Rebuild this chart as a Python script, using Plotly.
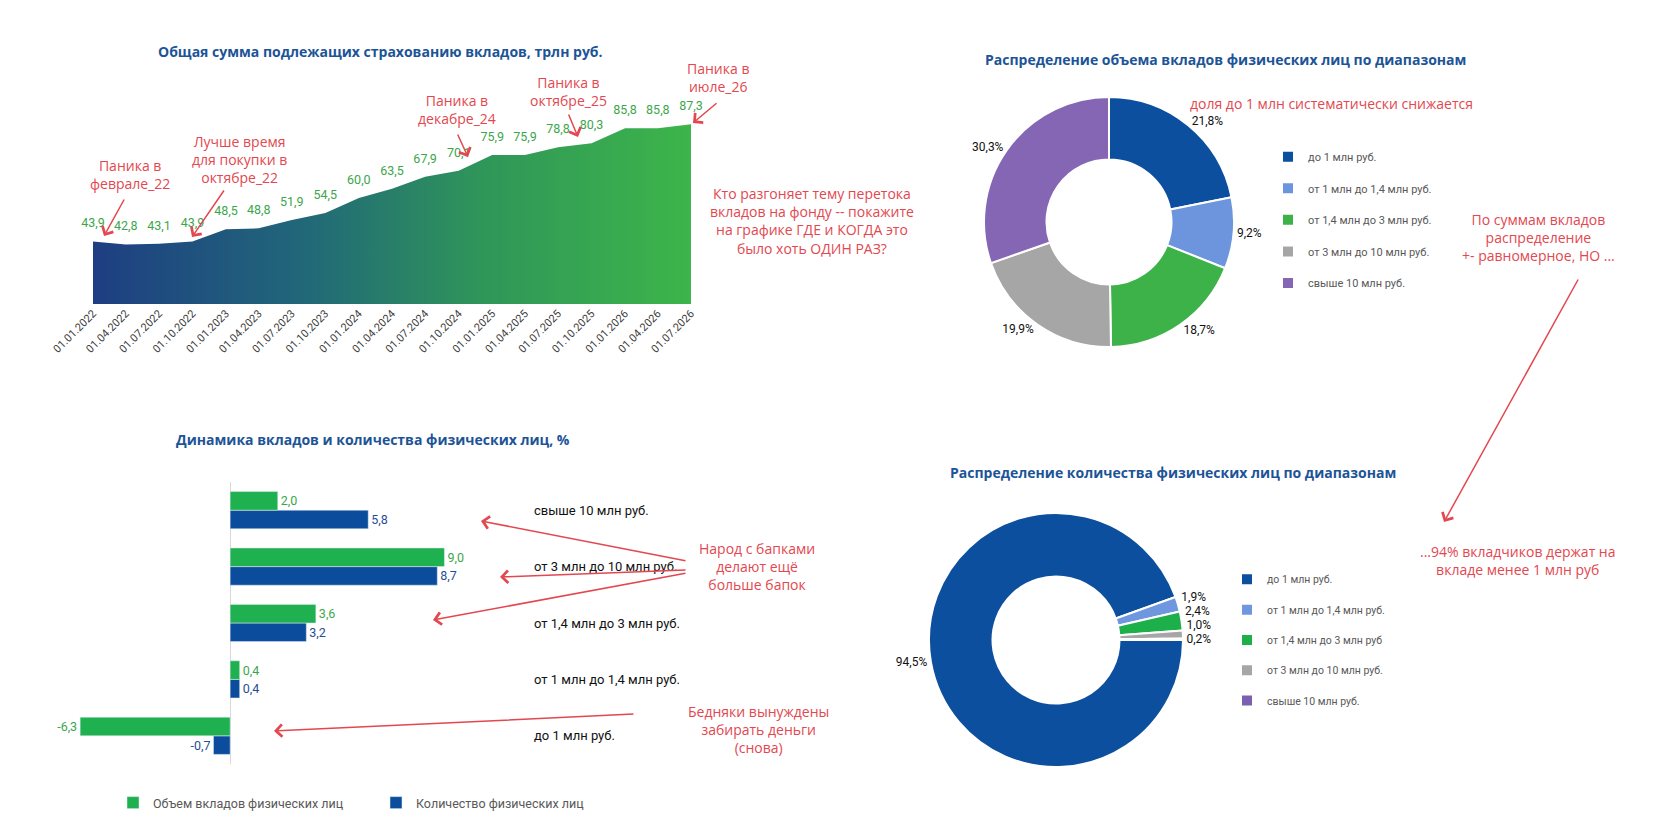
import plotly.graph_objects as go

W, H = 1662, 839

#########################################################################################
# Data
#########################################################################################
quarters = ['2022-01-01', '2022-04-01', '2022-07-01', '2022-10-01',
            '2023-01-01', '2023-04-01', '2023-07-01', '2023-10-01',
            '2024-01-01', '2024-04-01', '2024-07-01', '2024-10-01',
            '2025-01-01', '2025-04-01', '2025-07-01', '2025-10-01',
            '2026-01-01', '2026-04-01', '2026-07-01']
insured_total = [43.9, 42.8, 43.1, 43.9, 48.5, 48.8, 51.9, 54.5, 60.0, 63.5,
                 67.9, 70.1, 75.9, 75.9, 78.8, 80.3, 85.8, 85.8, 87.3]

ranges = ['до 1 млн руб.', 'от 1 млн до 1,4 млн руб.', 'от 1,4 млн до 3 млн руб.',
          'от 3 млн до 10 млн руб.', 'свыше 10 млн руб.']
ranges_people = ['до 1 млн руб.', 'от 1 млн до 1,4 млн руб.', 'от 1,4 млн до 3 млн руб',
                 'от 3 млн до 10 млн руб.', 'свыше 10 млн руб.']
volume_share = [21.8, 9.2, 18.7, 19.9, 30.3]
people_share = [94.5, 1.9, 2.4, 1.0, 0.2]

volume_change = [-6.3, 0.4, 3.6, 9.0, 2.0]
people_change = [-0.7, 0.4, 3.2, 8.7, 5.8]

#########################################################################################
# Styles
#########################################################################################
RED = '#e3474f'
TITLE_BLUE = '#1c5497'
GREEN = '#3ca64b'
BLUE = '#0b4d9c'
slice_colors = ['#0b4f9e', '#6d95dd', '#3db249', '#a6a6a6', '#8466b5']
slice_colors_people = ['#0b4f9e', '#6f97e0', '#1db04a', '#a6a6a6', '#7b5fb0']
NARROW = 'Roboto'


def px_x(x):
    return x / W


def px_y(y):
    return 1 - y / H


fig = go.Figure()

# area chart
fig.add_trace(go.Scatter(
    x=quarters, y=insured_total, mode='lines', fill='tozeroy',
    line=dict(width=0, color='#3db54a'),
    fillgradient=dict(type='horizontal',
                      colorscale=[[0, '#1e3e82'], [0.35, '#216779'],
                                  [0.65, '#2f9659'], [1, '#3db54a']]),
    hoverinfo='skip', showlegend=False, xaxis='x', yaxis='y'))
fig.add_trace(go.Scatter(
    x=quarters, y=insured_total, mode='markers+text',
    marker=dict(size=16, color='rgba(0,0,0,0)'),
    texttemplate='%{y:.1f}', textposition='top center',
    textfont=dict(family=NARROW, size=12.5, color=GREEN),
    cliponaxis=False, showlegend=False, xaxis='x', yaxis='y'))

# bars (first trace sits at the bottom of each group)
fig.add_trace(go.Bar(
    y=ranges, x=people_change, orientation='h', name='Количество физических лиц',
    marker_color=BLUE, texttemplate='%{x:.1f}', textposition='outside',
    textfont=dict(family=NARROW, size=12.5, color='#1f4e96'),
    constraintext='none', cliponaxis=False, legendrank=2,
    xaxis='x2', yaxis='y2'))
fig.add_trace(go.Bar(
    y=ranges, x=volume_change, orientation='h', name='Объем вкладов физических лиц',
    marker_color='#1fb04f', texttemplate='%{x:.1f}', textposition='outside',
    textfont=dict(family=NARROW, size=12.5, color=GREEN),
    constraintext='none', cliponaxis=False, legendrank=1,
    xaxis='x2', yaxis='y2'))

# donuts (a trailing blank line widens the legend rows; distinct blanks keep the two legends apart)
fig.add_trace(go.Pie(
    labels=[r + '<br> ' for r in ranges], values=volume_share, hole=0.5, sort=False,
    direction='clockwise', rotation=0,
    marker=dict(colors=slice_colors, line=dict(color='white', width=2)),
    texttemplate='%{value:.1f}%', textposition='outside',
    outsidetextfont=dict(family=NARROW, size=12, color='#111111'),
    domain=dict(x=[px_x(1109 - 125), px_x(1109 + 125)], y=[px_y(222 + 125), px_y(222 - 125)]),
    legend='legend2'))
fig.add_trace(go.Pie(
    labels=[r + '<br>&nbsp;' for r in ranges_people], values=people_share, hole=0.5, sort=False,
    direction='clockwise', rotation=90,
    marker=dict(colors=slice_colors_people, line=dict(color='white', width=2)),
    texttemplate='%{value:.1f}%', textposition='outside',
    outsidetextfont=dict(family=NARROW, size=12, color='#111111'),
    domain=dict(x=[px_x(1056 - 127), px_x(1056 + 127)], y=[px_y(640 + 127), px_y(640 - 127)]),
    legend='legend3'))

#########################################################################################
# Texts and arrows
#########################################################################################
annotations = []
titles = [
    ('Общая сумма подлежащих страхованию вкладов, трлн руб.', 380, 52),
    ('Распределение объема вкладов физических лиц по диапазонам', 1225, 60),
    ('Динамика вкладов и количества физических лиц, %', 373, 439),
    ('Распределение количества физических лиц по диапазонам', 1173, 472),
]
for text, x, y in titles:
    annotations.append(dict(text='<b>' + text + '</b>', x=px_x(x), y=px_y(y),
                            xref='paper', yref='paper', showarrow=False,
                            xanchor='center', yanchor='middle',
                            font=dict(family='Open Sans', size=14, color=TITLE_BLUE)))

notes = [
    ('Паника в<br>феврале_22', 130, 175),
    ('Лучше время<br>для покупки в<br>октябре_22', 239, 160),
    ('Паника в<br>декабре_24', 457, 109),
    ('Паника в<br>октябре_25', 568, 91),
    ('Паника в<br>июле_26', 718, 77),
    ('Кто разгоняет тему перетока<br>вкладов на фонду -- покажите<br>'
     'на графике ГДЕ и КОГДА это<br>было хоть ОДИН РАЗ?', 812, 221),
    ('доля до 1 млн систематически снижается', 1331, 103),
    ('По суммам вкладов<br>распределение<br>+- равномерное, НО ...', 1538, 237),
    ('...94% вкладчиков держат на<br>вкладе менее 1 млн руб', 1518, 560),
    ('Народ с бапками<br>делают ещё<br>больше бапок', 757, 566),
    ('Бедняки вынуждены<br>забирать деньги<br>(снова)', 758, 729),
]
for text, x, y in notes:
    annotations.append(dict(text=text, x=px_x(x), y=px_y(y), xref='paper', yref='paper',
                            showarrow=False, xanchor='center', yanchor='middle',
                            font=dict(family='Open Sans', size=14, color=RED)))

# (start, tip) in pixels
arrows = [
    ((125, 198), (104, 236)),
    ((225, 189), (192, 237)),
    ((457, 133), (468, 157)),
    ((568, 113), (578, 137)),
    ((718, 102), (693, 123)),
    ((1579, 278), (1444, 522)),
    ((687, 561), (481, 521)),
    ((687, 570), (500, 577)),
    ((687, 573), (433, 620)),
    ((635, 714), (274, 731)),
]
for (sx, sy), (tx, ty) in arrows:
    annotations.append(dict(text='', x=px_x(tx), y=px_y(ty), xref='paper', yref='paper',
                            ax=sx - tx, ay=sy - ty, showarrow=True, arrowhead=4,
                            arrowsize=1.6, arrowwidth=1.5, arrowcolor=RED,
                            standoff=0, startstandoff=0))

#########################################################################################
# Layout
#########################################################################################
fig.update_layout(
    width=W, height=H, autosize=False,
    margin=dict(l=0, r=0, t=0, b=0),
    paper_bgcolor='white', plot_bgcolor='white',
    separators=', ',
    font=dict(family=NARROW, color='#333333'),
    barmode='group', bargap=0.34, bargroupgap=0,
    annotations=annotations,
    xaxis=dict(domain=[px_x(93), px_x(691)], type='date',
               range=['2022-01-01', '2026-07-01'], tick0='2022-01-01', dtick='M3',
               tickformat='%d.%m.%Y', tickangle=-45, automargin=False,
               tickfont=dict(family=NARROW, size=11, color='#404040'),
               showgrid=False, zeroline=False, showline=False, ticks='', anchor='y'),
    yaxis=dict(domain=[px_y(304), px_y(100)], range=[20.8, 96.3], visible=False,
               automargin=False, anchor='x'),
    xaxis2=dict(domain=[px_x(73), px_x(523)], range=[-6.6, 12.3], anchor='y2',
                showticklabels=False, showgrid=False, zeroline=True, automargin=False,
                zerolinecolor='#d9d9d9', zerolinewidth=1, showline=False),
    yaxis2=dict(domain=[px_y(764), px_y(482)], anchor='x2', side='right',
                type='category', showgrid=False, zeroline=False, showline=False,
                ticks='', ticklabelstandoff=10, automargin=False,
                tickfont=dict(family=NARROW, size=13, color='#111111')),
    legend=dict(orientation='h', x=px_x(113), y=px_y(803), xanchor='left',
                yanchor='middle', entrywidth=218, entrywidthmode='pixels',
                font=dict(family=NARROW, size=12.5, color='#595959'),
                bgcolor='rgba(0,0,0,0)'),
    legend2=dict(x=px_x(1268), y=px_y(143), xanchor='left', yanchor='top',
                 valign='top', font=dict(family=NARROW, size=11, color='#595959'),
                 bgcolor='rgba(0,0,0,0)'),
    legend3=dict(x=px_x(1227), y=px_y(566), xanchor='left', yanchor='top',
                 valign='top', font=dict(family=NARROW, size=10.5, color='#595959'),
                 bgcolor='rgba(0,0,0,0)'),
)

fig.write_html("out.html", config={'displayModeBar': False},
               post_script="document.body.style.margin='0';document.body.style.overflow='hidden';"
                           "document.querySelectorAll('path.textline').forEach(function(p){p.remove();});")
